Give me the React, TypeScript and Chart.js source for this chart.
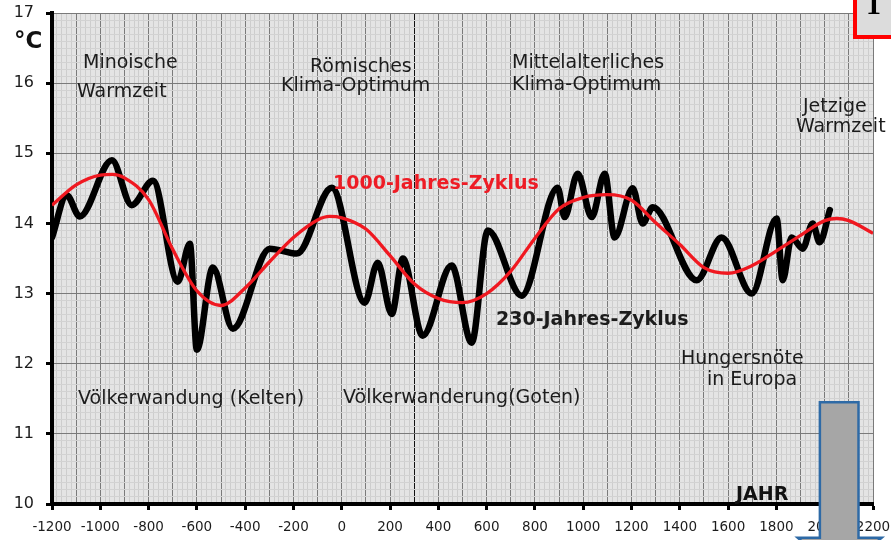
import React, { useEffect, useRef } from 'react';
import { Chart, registerables } from 'chart.js';

Chart.register(...registerables);

// 230-Jahres-Zyklus (black)
const years230 = [-1200, -1139, -1085, -952, -870, -782, -679, -629, -600, -534, -451, -298, -186, -41, 95, 149, 207, 253, 335, 455, 538, 605, 745, 894, 923, 977, 1035, 1089, 1130, 1205, 1246, 1288, 1470, 1573, 1698, 1801, 1826, 1863, 1909, 1950, 1979, 2021];
const temps230 = [13.8, 14.4, 14.1, 14.9, 14.26, 14.61, 13.17, 13.71, 12.2, 13.37, 12.5, 13.64, 13.57, 14.51, 12.87, 13.44, 12.71, 13.5, 12.4, 13.4, 12.3, 13.9, 12.97, 14.51, 14.09, 14.71, 14.09, 14.71, 13.8, 14.5, 14.0, 14.23, 13.19, 13.8, 13.0, 14.07, 13.19, 13.8, 13.64, 14.0, 13.73, 14.19];

// 1000-Jahres-Zyklus (red)
const years1000 = [-1200, -1100, -1000, -950, -900, -800, -700, -600, -500, -400, -300, -200, -100, -50, 0, 100, 200, 300, 400, 500, 600, 700, 800, 900, 1000, 1100, 1200, 1300, 1400, 1500, 1600, 1700, 1800, 1900, 2000, 2050, 2100, 2200];
const temps1000 = [14.26, 14.55, 14.69, 14.7, 14.65, 14.34, 13.63, 13.04, 12.83, 13.08, 13.45, 13.8, 14.05, 14.1, 14.08, 13.92, 13.54, 13.14, 12.93, 12.87, 13.0, 13.32, 13.79, 14.21, 14.37, 14.41, 14.33, 14.01, 13.7, 13.37, 13.29, 13.4, 13.61, 13.83, 14.04, 14.07, 14.04, 13.86];

const X_MIN = -1200;
const X_MAX = 2200;
const Y_MIN = 10;
const Y_MAX = 17;

// highlighted block arrow (years / °C)
const arrowYears = [1980, 2140, 1888, 2236];
const arrowTemps = [11.45, 9.52, 9.0];

const isMult = (v: number, m: number) => Math.abs(v / m - Math.round(v / m)) < 1e-6;

const decoPlugin = {
  id: 'deco',
  beforeDraw(chart: any) {
    const { ctx, chartArea } = chart;
    ctx.save();
    ctx.fillStyle = '#e4e4e4';
    ctx.fillRect(chartArea.left, chartArea.top, chartArea.right - chartArea.left, chartArea.bottom - chartArea.top);
    ctx.restore();
  },
  afterDraw(chart: any) {
    const { ctx } = chart;
    const xs = chart.scales.x;
    const ys = chart.scales.y;
    ctx.save();
    const txt = (s: string, x: number, y: number, font: string, color = '#1c1c1c') => {
      ctx.font = font;
      ctx.fillStyle = color;
      ctx.textAlign = 'left';
      ctx.textBaseline = 'middle';
      ctx.fillText(s, x, y);
    };
    const f = '19px "DejaVu Sans"';
    const fb = 'bold 19px "DejaVu Sans"';
    txt('Minoische', 83, 63, f);
    txt('Warmzeit', 77, 92, f);
    txt('Römisches', 310, 67, f);
    txt('Klima-Optimum', 281, 86, f);
    txt('Mittelalterliches', 512, 63, f);
    txt('Klima-Optimum', 512, 85, f);
    txt('Jetzige', 803, 107, f);
    txt('Warmzeit', 796, 127, f);
    txt('Hungersnöte', 681, 359, f);
    txt('in Europa', 707, 380, f);
    txt('Völkerwandung (Kelten)', 78, 399, f);
    txt('Völkerwanderung(Goten)', 343, 398, f);
    txt('1000-Jahres-Zyklus', 333, 184, fb, '#ee1c25');
    txt('230-Jahres-Zyklus', 496, 320, fb, '#1c1c1c');
    txt('JAHR', 736, 495, fb, '#111');
    txt('°C', 14, 42, 'bold 23px "DejaVu Sans"', '#111');

    // block arrow
    const L = xs.getPixelForValue(arrowYears[0]);
    const R = xs.getPixelForValue(arrowYears[1]);
    const HL = xs.getPixelForValue(arrowYears[2]);
    const HR = xs.getPixelForValue(arrowYears[3]);
    const T = ys.getPixelForValue(arrowTemps[0]);
    const H = ys.getPixelForValue(arrowTemps[1]);
    const TIP = ys.getPixelForValue(arrowTemps[2]);
    ctx.beginPath();
    ctx.moveTo(L, T);
    ctx.lineTo(R, T);
    ctx.lineTo(R, H);
    ctx.lineTo(HR, H);
    ctx.lineTo((L + R) / 2, TIP);
    ctx.lineTo(HL, H);
    ctx.lineTo(L, H);
    ctx.closePath();
    ctx.fillStyle = '#a6a6a6';
    ctx.fill();
    ctx.strokeStyle = '#2e6aa6';
    ctx.lineWidth = 2.5;
    ctx.stroke();

    // red framed box top-right
    ctx.fillStyle = '#dcdcdc';
    ctx.fillRect(855, -10, 60, 47);
    ctx.strokeStyle = '#ff0000';
    ctx.lineWidth = 4;
    ctx.strokeRect(855, -10, 60, 47);
    ctx.font = 'bold 30px "Liberation Serif"';
    ctx.fillStyle = '#000';
    ctx.textAlign = 'left';
    ctx.textBaseline = 'alphabetic';
    ctx.fillText('1', 866, 14);
    ctx.restore();
  },
};

export default function App() {
  const ref = useRef<HTMLCanvasElement | null>(null);
  useEffect(() => {
    if (!ref.current) return;
    const chart = new Chart(ref.current, {
      type: 'line',
      data: {
        datasets: [
          {
            label: '1000-Jahres-Zyklus',
            data: years1000.map((x, i) => ({ x, y: temps1000[i] })),
            borderColor: '#f01820',
            borderWidth: 3.3,
            pointRadius: 0,
            cubicInterpolationMode: 'monotone',
            fill: false,
          },
          {
            label: '230-Jahres-Zyklus',
            data: years230.map((x, i) => ({ x, y: temps230[i] })),
            borderColor: '#000000',
            borderWidth: 6.5,
            pointRadius: 0,
            cubicInterpolationMode: 'monotone',
            fill: false,
            borderCapStyle: 'round',
            borderJoinStyle: 'round',
          },
        ],
      },
      options: {
        animation: false,
        responsive: false,
        devicePixelRatio: 1,
        layout: { padding: { left: 0, right: 18, top: 13, bottom: 0 } },
        plugins: { legend: { display: false }, tooltip: { enabled: false } },
        scales: {
          x: {
            type: 'linear',
            min: X_MIN,
            max: X_MAX,
            afterFit: (s: any) => { s.height = 36; s.paddingLeft = 0; s.paddingRight = 0; },
            border: { display: true, color: '#000', width: 4 },
            grid: {
              drawTicks: true,
              tickLength: 6,
              color: (c: any) => {
                const v = c.tick ? c.tick.value : 0;
                if (Math.abs(v - 300) < 1e-6) return '#111';
                return isMult(v, 100) ? '#7a7a7a' : '#cdcdcd';
              },
              lineWidth: 1,
              tickColor: (c: any) => (c.tick && isMult(c.tick.value, 200) ? '#000' : 'rgba(0,0,0,0)'),
              tickWidth: 3,
            },
            ticks: {
              stepSize: 20,
              autoSkip: false,
              maxRotation: 0,
              minRotation: 0,
              padding: 9,
              color: '#1c1c1c',
              font: { family: '"DejaVu Sans"', size: 13.5 },
              callback: (v: any) => (isMult(Number(v), 200) ? String(Math.round(Number(v))) : ''),
            },
          },
          y: {
            type: 'linear',
            min: Y_MIN,
            max: Y_MAX,
            afterFit: (s: any) => { s.width = 52; s.paddingTop = 0; s.paddingBottom = 0; },
            border: { display: true, color: '#000', width: 4 },
            grid: {
              drawTicks: true,
              tickLength: 6,
              color: (c: any) => (c.tick && isMult(c.tick.value, 1) ? '#7a7a7a' : '#d2d2d2'),
              lineWidth: 1,
              tickColor: (c: any) => (c.tick && isMult(c.tick.value, 1) ? '#000' : 'rgba(0,0,0,0)'),
              tickWidth: 3,
            },
            ticks: {
              stepSize: 0.1,
              autoSkip: false,
              padding: 12,
              color: '#1c1c1c',
              font: { family: '"DejaVu Sans"', size: 16 },
              callback: (v: any) => (isMult(Number(v), 1) ? String(Math.round(Number(v))) : ''),
            },
          },
        },
      },
      plugins: [decoPlugin],
    } as any);
    return () => chart.destroy();
  }, []);
  return (
    <div style={{ position: 'absolute', left: 0, top: 0, width: 891, height: 540 }}>
      <canvas ref={ref} width={891} height={540} style={{ width: 891, height: 540, display: 'block' }} />
    </div>
  );
}
